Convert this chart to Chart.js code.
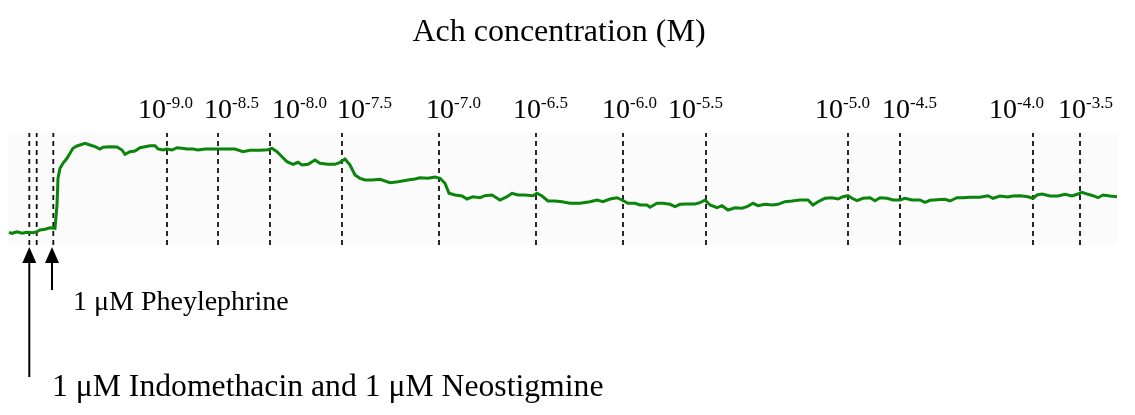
<!DOCTYPE html>
<html lang="en">
<head>
<meta charset="UTF-8">
<title>Ach concentration response</title>
<script src="https://cdn.jsdelivr.net/npm/chart.js"></script>
<style>
  html, body { margin: 0; padding: 0; background: #fff; }
  canvas { display: block; }
</style>
</head>
<body>
<canvas id="trace" width="1135" height="415"></canvas>
<script>
// recording time (arbitrary units) and tension (arbitrary units)
const time = [1, 4, 9, 14, 19, 25, 29, 32, 37, 42, 47, 49, 50, 52, 55, 59, 62, 65, 69, 72, 77, 82, 87, 92, 95,
  102, 109, 114, 117, 122, 127, 132, 137, 142, 147, 150, 155, 159, 164, 169, 174, 179, 185, 190, 197, 204, 210,
  217, 227, 235, 242, 252, 260, 264, 269, 274, 279, 285, 290, 294, 300, 307, 312, 320, 327, 332, 337, 342, 347,
  352, 357, 364, 372, 382, 390, 400, 407, 412, 420, 427, 432, 437, 441, 447, 454, 459, 465, 472, 477, 484, 492,
  499, 504, 510, 517, 525, 529, 534, 540, 547, 554, 562, 572, 582, 589, 595, 602, 609, 614, 620, 627, 632, 639,
  642, 649, 655, 662, 667, 672, 679, 687, 692, 697, 702, 709, 714, 720, 727, 734, 739, 745, 750, 757, 764, 770,
  777, 784, 792, 800, 805, 810, 817, 824, 830, 835, 840, 844, 849, 855, 862, 867, 872, 879, 885, 892, 897, 904,
  912, 917, 922, 929, 937, 942, 949, 955, 962, 972, 980, 985, 992, 1000, 1005, 1012, 1020, 1025, 1029, 1034,
  1042, 1050, 1057, 1064, 1070, 1074, 1080, 1085, 1090, 1095, 1102, 1109];
const tension = [12.7, 11.7, 13.3, 11.7, 12.7, 12.3, 13.3, 15, 15.7, 17.3, 16.7, 40, 66.7, 76.7, 81.7, 86.7, 91.7,
  96.7, 99, 100, 101.7, 100, 98.3, 96, 97.7, 98.3, 98, 95, 90.7, 93.3, 94, 97.3, 98.3, 99.3, 99.3, 96, 95, 96, 95,
  97.3, 96.7, 96, 96, 95, 96, 96, 96, 96, 96, 93.3, 94.7, 94.7, 95.3, 96.7, 93.3, 88.3, 83.3, 80.7, 82.7, 80, 80.7,
  85, 81.7, 80.7, 80.7, 82.7, 86, 80, 70, 66.7, 65, 65, 65.7, 62.3, 63.3, 65, 66, 67.3, 66.7, 68, 66.7, 61.7, 51.7,
  50, 49, 46, 48.3, 47.3, 49.3, 50, 45, 48.3, 51.7, 50, 50, 49.3, 51.7, 49, 44, 44, 43.3, 41.7, 41.7, 43.3, 45,
  43.3, 46, 47.3, 45, 41.7, 41.7, 40, 40, 37.7, 41.7, 41.7, 40.7, 38.3, 40.7, 41, 41, 42.3, 45, 40, 37.3, 39.3, 35,
  37.3, 36.7, 38.3, 41.7, 39.3, 40.7, 40, 40.7, 43.3, 44, 45, 45, 40, 43.3, 46.7, 47.3, 46, 48.3, 49.3, 46.7, 44.3,
  46.7, 47.3, 44.3, 47.3, 46.7, 45, 45, 46.7, 45, 45, 42.7, 44.7, 45.3, 45.7, 44, 47.3, 47.3, 47.7, 47.7, 49.3,
  46.7, 49, 48, 49, 49.3, 48.3, 46.7, 50, 51, 49, 49, 50.7, 49, 51, 52.7, 50.7, 49.3, 47.3, 50, 49, 48.3];

// drug additions (indomethacin + neostigmine, phenylephrine)
const additions = [21.3, 28.7, 45.3];
// ACh additions and their log concentrations
const doses = [159, 210, 262, 334, 431, 528, 615, 698, 840, 892, 1025, 1072];
const exponents = ['-9.0', '-8.5', '-8.0', '-7.5', '-7.0', '-6.5', '-6.0', '-5.5', '-5.0', '-4.5', '-4.0', '-3.5'];
const labelAt = [130, 196, 264, 329, 418, 505, 594, 660, 807, 874, 981, 1050];
const arrowAt = [21.3, 44];

const yMin = 0, yMax = 113;
const serif = "'Times New Roman', 'Liberation Serif', serif";

const markerSets = additions.concat(doses).map(t => ({
  data: [{ x: t, y: yMin }, { x: t, y: yMax - 1 }],
  borderColor: '#111',
  borderWidth: 1.8,
  borderDash: [5, 4],
  pointRadius: 0
}));

const annotations = {
  id: 'annotations',
  beforeDraw(chart) {
    const { ctx, chartArea: a } = chart;
    ctx.save();
    ctx.fillStyle = '#fbfbfb';
    ctx.fillRect(a.left, a.top, a.right - a.left, a.bottom - a.top);
    ctx.restore();
  },
  afterDraw(chart) {
    const { ctx, chartArea } = chart;
    const xs = chart.scales.x;
    ctx.save();
    ctx.fillStyle = '#000';
    ctx.strokeStyle = '#000';
    ctx.textBaseline = 'alphabetic';
    ctx.textAlign = 'center';
    ctx.font = '32px ' + serif;
    ctx.fillText('Ach concentration (M)', 559, 41);

    // dose labels 10^x
    ctx.textAlign = 'left';
    exponents.forEach((e, i) => {
      const px = xs.getPixelForValue(labelAt[i]);
      ctx.font = '28px ' + serif;
      ctx.fillText('10', px, 118);
      const w = ctx.measureText('10').width;
      ctx.font = '17px ' + serif;
      ctx.fillText(e, px + w, 108);
    });

    // arrows
    const tipY = chartArea.bottom + 2;
    const ends = [chartArea.bottom + 132, chartArea.bottom + 45];
    arrowAt.forEach((t, i) => {
      const px = xs.getPixelForValue(t);
      ctx.lineWidth = 2;
      ctx.beginPath();
      ctx.moveTo(px, tipY + 12);
      ctx.lineTo(px, ends[i]);
      ctx.stroke();
      ctx.beginPath();
      ctx.moveTo(px, tipY);
      ctx.lineTo(px - 7, tipY + 16);
      ctx.lineTo(px + 7, tipY + 16);
      ctx.closePath();
      ctx.fill();
    });

    ctx.font = '28px ' + serif;
    ctx.fillText('1 \u03bcM Pheylephrine', 73, 310);
    ctx.font = '31.7px ' + serif;
    ctx.fillText('1 \u03bcM Indomethacin and 1 \u03bcM Neostigmine', 52, 396);
    ctx.restore();
  }
};

new Chart(document.getElementById('trace'), {
  type: 'line',
  data: {
    datasets: [{
      data: time.map((t, i) => ({ x: t, y: tension[i] })),
      borderColor: '#0a840a',
      borderWidth: 3,
      pointRadius: 0,
      tension: 0
    }].concat(markerSets)
  },
  options: {
    responsive: false,
    animation: false,
    layout: { padding: { left: 8, right: 17, top: 132, bottom: 170 } },
    scales: {
      x: { type: 'linear', min: 0, max: 1110, display: false },
      y: { min: yMin, max: yMax, display: false }
    },
    plugins: { legend: { display: false }, tooltip: { enabled: false } }
  },
  plugins: [annotations]
});
</script>
</body>
</html>
